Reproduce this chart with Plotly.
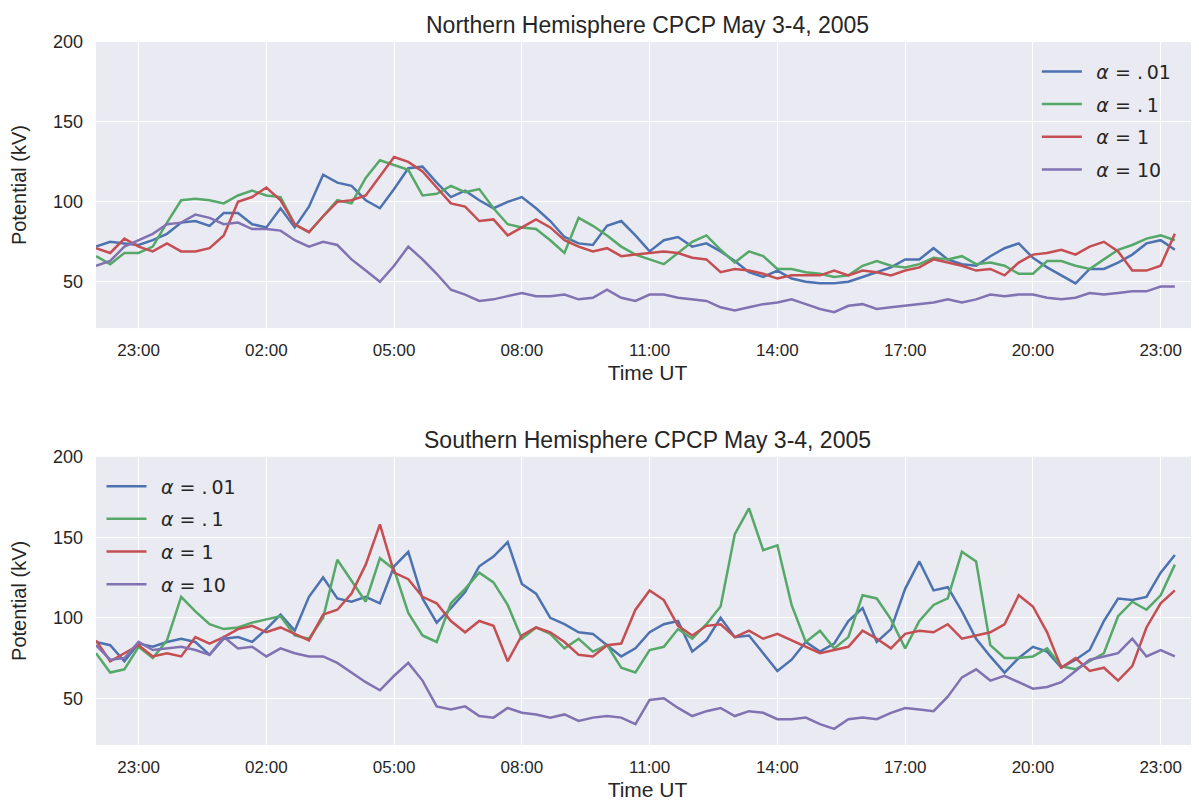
import pandas as pd
import plotly.graph_objects as go

# seaborn "deep" palette on darkgrid
C_BLUE = "#4C72B0"
C_GREEN = "#55A868"
C_RED = "#C44E52"
C_PURPLE = "#8172B2"
BG = "#EAEAF2"
FONT = "Liberation Sans, Arial, sans-serif"
TXT = "#262626"

# 20-minute samples, 22:00 May 3 -> 23:20 May 4 (UT)
TIMES = pd.date_range("2005-05-03 22:00", periods=77, freq="20min")
LABELS = ["\u2002<i>α</i> = .\u200901", "\u2002<i>α</i> = .\u20091",
          "\u2002<i>α</i> = 1", "\u2002<i>α</i> = 10"]

# Northern hemisphere CPCP (kV)
north_a001 = [72, 75, 74, 73, 76, 80, 87, 88, 85, 93,
              93, 86, 84, 96, 84, 97, 117, 112, 110, 101,
              96, 108, 121, 122, 112, 103, 107, 101, 96, 100,
              103, 96, 88, 78, 74, 73, 85, 88, 79, 69,
              76, 78, 72, 74, 69, 63, 56, 53, 57, 52,
              50, 49, 49, 50, 53, 56, 59, 64, 64, 71,
              64, 61, 60, 66, 71, 74, 65, 59, 54, 49,
              58, 58, 62, 67, 74, 76, 70]
north_a01 = [66, 61, 68, 68, 72, 87, 101, 102, 101, 99,
             104, 107, 104, 103, 86, 81, 91, 101, 99, 115,
             126, 123, 120, 104, 105, 110, 106, 108, 96, 86,
             84, 83, 76, 68, 90, 85, 79, 72, 67, 64,
             61, 68, 75, 79, 70, 62, 69, 66, 58, 58,
             56, 55, 53, 54, 60, 63, 60, 59, 61, 65,
             64, 66, 61, 62, 60, 55, 55, 63, 63, 60,
             58, 64, 70, 73, 77, 79, 76]
north_a1 = [71, 68, 77, 72, 69, 74, 69, 69, 71, 79,
            100, 103, 109, 101, 86, 81, 91, 100, 101, 104,
            116, 128, 125, 119, 109, 99, 97, 88, 89, 79,
            84, 89, 84, 76, 72, 69, 71, 66, 67, 68,
            69, 68, 65, 64, 56, 58, 57, 55, 52, 54,
            54, 54, 57, 54, 57, 56, 54, 57, 59, 64,
            62, 60, 57, 58, 54, 62, 67, 68, 70, 67,
            72, 75, 69, 57, 57, 60, 80]
north_a10 = [60, 63, 72, 76, 80, 86, 87, 92, 90, 86,
             87, 83, 83, 82, 76, 72, 75, 73, 64, 57,
             50, 60, 72, 64, 55, 45, 42, 38, 39, 41,
             43, 41, 41, 42, 39, 40, 45, 40, 38, 42,
             42, 40, 39, 38, 34, 32, 34, 36, 37, 39,
             36, 33, 31, 35, 36, 33, 34, 35, 36, 37,
             39, 37, 39, 42, 41, 42, 42, 40, 39, 40,
             43, 42, 43, 44, 44, 47, 47]

# Southern hemisphere CPCP (kV)
south_a001 = [85, 83, 73, 84, 82, 85, 87, 85, 77, 87,
              88, 85, 93, 102, 92, 113, 125, 112, 110, 113,
              109, 132, 141, 112, 97, 106, 116, 132, 138, 147,
              121, 115, 100, 96, 91, 90, 83, 76, 81, 91,
              96, 98, 79, 86, 100, 88, 89, 78, 67, 74,
              85, 79, 84, 98, 106, 85, 93, 118, 135, 117,
              119, 104, 87, 76, 66, 75, 82, 79, 69, 74,
              80, 98, 112, 111, 113, 128, 139]
south_a01 = [78, 66, 68, 82, 75, 86, 113, 104, 96, 93,
             94, 97, 99, 101, 89, 87, 100, 136, 123, 110,
             137, 130, 103, 89, 85, 109, 118, 128, 122, 108,
             87, 94, 90, 81, 87, 79, 83, 69, 66, 80,
             82, 93, 87, 96, 107, 152, 168, 142, 145, 108,
             85, 92, 81, 88, 114, 112, 99, 81, 98, 108,
             112, 141, 135, 83, 75, 75, 76, 81, 70, 68,
             73, 78, 101, 110, 105, 114, 133]
south_a1 = [86, 73, 78, 83, 76, 78, 76, 88, 84, 88,
            93, 95, 91, 94, 90, 86, 102, 105, 115, 133,
            158, 128, 124, 113, 109, 98, 91, 98, 95, 73,
            89, 94, 91, 85, 77, 76, 83, 84, 105, 117,
            111, 95, 89, 95, 96, 88, 92, 87, 90, 86,
            82, 78, 80, 82, 92, 87, 81, 90, 92, 91,
            96, 87, 89, 91, 96, 114, 107, 91, 69, 75,
            67, 69, 61, 70, 94, 109, 117]
south_a10 = [83, 74, 75, 85, 80, 81, 82, 80, 77, 88,
             81, 82, 76, 81, 78, 76, 76, 72, 66, 60,
             55, 64, 72, 61, 45, 43, 45, 39, 38, 44,
             41, 40, 38, 40, 36, 38, 39, 38, 34, 49,
             50, 44, 39, 42, 44, 39, 42, 41, 37, 37,
             38, 34, 31, 37, 38, 37, 41, 44, 43, 42,
             51, 63, 68, 61, 64, 60, 56, 57, 60, 67,
             74, 76, 78, 87, 76, 80, 76]

COLORS = [C_BLUE, C_GREEN, C_RED, C_PURPLE]
NORTH = [north_a001, north_a01, north_a1, north_a10]
SOUTH = [south_a001, south_a01, south_a1, south_a10]

fig = go.Figure()
for i, (ys, col, lab) in enumerate(zip(NORTH, COLORS, LABELS)):
    fig.add_trace(go.Scatter(
        x=TIMES, y=ys, mode="lines", name=lab,
        line=dict(color=col, width=2.5),
        xaxis="x", yaxis="y", legend="legend", legendgroup=f"n{i}",
    ))
for i, (ys, col, lab) in enumerate(zip(SOUTH, COLORS, LABELS)):
    fig.add_trace(go.Scatter(
        x=TIMES, y=ys, mode="lines", name=lab,
        line=dict(color=col, width=2.5),
        xaxis="x2", yaxis="y2", legend="legend2", legendgroup=f"s{i}",
    ))

x_common = dict(
    range=["2005-05-03 22:00", "2005-05-04 23:54"],
    tick0="2005-05-03 23:00", dtick=3 * 3600 * 1000, tickformat="%H:%M",
    showgrid=True, gridcolor="white", gridwidth=1.3,
    zeroline=False, showline=False, ticks="", automargin=False,
    tickfont=dict(size=17, color=TXT), ticklabelstandoff=10,
    title=dict(text="Time UT", font=dict(size=21, color=TXT), standoff=6),
)
y_common = dict(
    range=[21, 200], tickvals=[50, 100, 150, 200],
    showgrid=True, gridcolor="white", gridwidth=1.3,
    zeroline=False, showline=False, ticks="", automargin=False,
    tickfont=dict(size=18, color=TXT), ticklabelstandoff=12,
    title=dict(text="Potential (kV)", font=dict(size=20, color=TXT), standoff=20),
)

legend_common = dict(
    bgcolor="rgba(0,0,0,0)", font=dict(size=19, color=TXT, family="DejaVu Sans"),
    tracegroupgap=5, itemwidth=40, xref="paper", yref="paper",
    xanchor="left", yanchor="top",
)

fig.update_layout(
    width=1199, height=812,
    paper_bgcolor="white", plot_bgcolor=BG,
    font=dict(family=FONT, color=TXT),
    margin=dict(l=88, r=8, t=34, b=75),
    xaxis=dict(domain=[0, 1], anchor="y", **x_common),
    yaxis=dict(domain=[0.593, 1.0], anchor="x", **y_common),
    xaxis2=dict(domain=[0, 1], anchor="y2", **x_common),
    yaxis2=dict(domain=[0.0, 0.410], anchor="x2", **y_common),
    legend=dict(x=0.853, y=0.985, **legend_common),
    legend2=dict(x=0.005, y=0.395, **legend_common),
    showlegend=True,
    annotations=[
        dict(text="Northern Hemisphere CPCP May 3-4, 2005", x=0.5, y=1.0,
             xref="paper", yref="paper", xanchor="center", yanchor="bottom",
             yshift=2, showarrow=False, font=dict(size=23, color=TXT)),
        dict(text="Southern Hemisphere CPCP May 3-4, 2005", x=0.5, y=0.410,
             xref="paper", yref="paper", xanchor="center", yanchor="bottom",
             yshift=2, showarrow=False, font=dict(size=23, color=TXT)),
    ],
)

fig.write_html("out.html")
